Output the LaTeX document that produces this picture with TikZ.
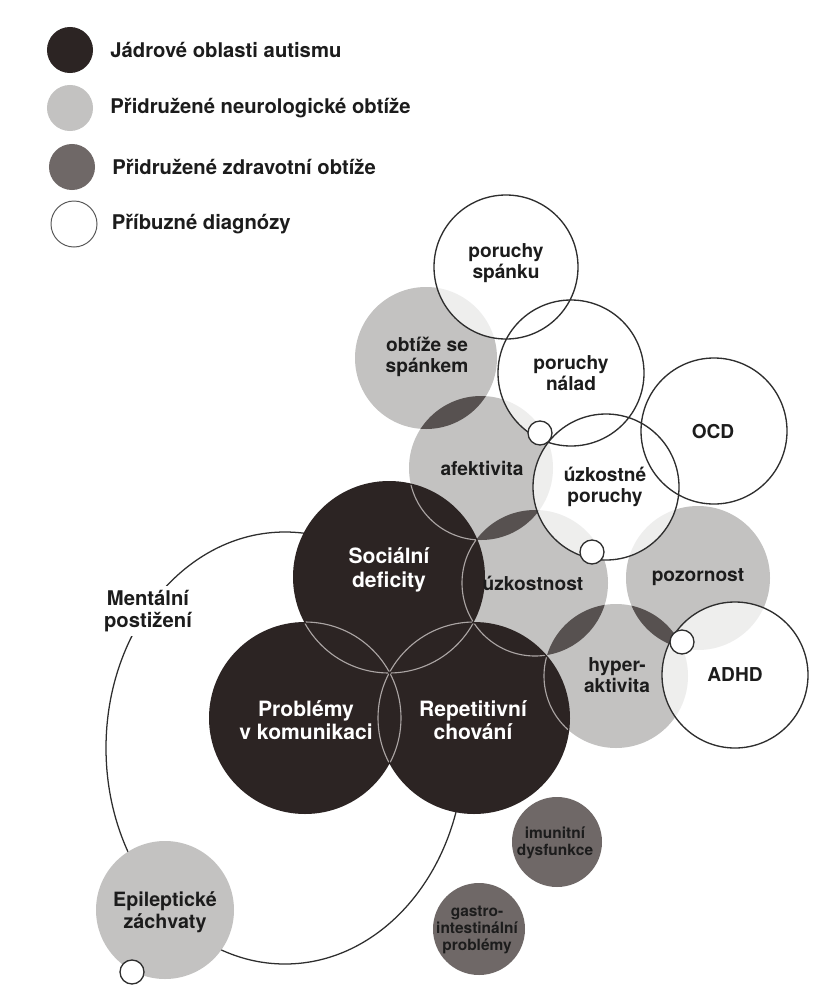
\documentclass[tikz,border=0pt]{standalone}
\usepackage{fontspec}
\setmainfont{TeX Gyre Heros}
\usepackage{xcolor}
\usepackage{tikz}
\usetikzlibrary{positioning}
\definecolor{core}{HTML}{2C2423}
\definecolor{neuro}{HTML}{C3C2C1}
\definecolor{lensfill}{HTML}{575150}
\definecolor{health}{HTML}{6F6867}
\definecolor{ring}{HTML}{2E2E2E}
\definecolor{rim}{HTML}{ABA5A4}
\definecolor{ink}{HTML}{1C1C1C}

\begin{document}
\begin{tikzpicture}[x=0.025cm, y=-0.025cm,
  related/.style={fill=white, fill opacity=0.72},
  ringline/.style={draw=ring, line width=0.95pt},
  rimline/.style={draw=rim, line width=0.8pt},
  lbl/.style={align=center, text=ink, inner sep=1pt, font=\bfseries\fontsize{13.6}{15}\selectfont},
  corelbl/.style={lbl, text=white, font=\bfseries\fontsize{15}{16.8}\selectfont},
  smalllbl/.style={lbl, font=\bfseries\fontsize{11}{12.2}\selectfont},
  legdot/.style={circle, minimum size=1.15cm, inner sep=0pt},
  legtext/.style={anchor=west, inner sep=0pt, text=ink, font=\bfseries\fontsize{14.4}{16}\selectfont}]
\fill[white] (0,0) rectangle (835,987);
\useasboundingbox (0,0) rectangle (835,987);

% legend
\node[legdot, fill=core] (leg1) at (70,50) {};
\node[legdot, fill=neuro] (leg2) at (70,108) {};
\node[legdot, fill=health] (leg3) at (72,167) {};
\node[legdot, draw=ring!80, line width=0.7pt] (leg4) at (74,224) {};
\node[legtext, right=0.42cm of leg1] (leg1t) {Jádrové oblasti autismu};
\node[legtext, right=0.42cm of leg2] (leg2t) {Přidružené neurologické obtíže};
\node[legtext, right=0.42cm of leg3] (leg3t) {Přidružené zdravotní obtíže};
\node[legtext, right=0.35cm of leg4] (leg4t) {Příbuzné diagnózy};

% centres
\coordinate (soc) at (389,577);
\coordinate (kom) at (305,718);
\coordinate (rep) at (474,718);
\coordinate (obt) at (426,358);
\coordinate (afe) at (481,468);
\coordinate (uzn) at (535,583);
\coordinate (poz) at (698,578);
\coordinate (hyp) at (616,676);
\coordinate (epi) at (165,910);
\coordinate (imu) at (557,842);
\coordinate (gas) at (479,929);
\coordinate (spa) at (506,267);
\coordinate (nal) at (571,373);
\coordinate (ocd) at (714,431);
\coordinate (uzp) at (606,487);
\coordinate (adh) at (735,675);
\coordinate (men) at (285,748);

% mental ring
\draw[ringline, line width=0.9pt] (men) ellipse (179 and 216);

% neurological
\fill[neuro] (obt) circle (71) (afe) circle (72) (uzn) circle (73)
  (poz) circle (72) (hyp) circle (72) (epi) circle (69);
\begin{scope}
  \clip (obt) circle (71);
  \fill[lensfill] (afe) circle (72);
\end{scope}
\begin{scope}
  \clip (afe) circle (72);
  \fill[lensfill] (uzn) circle (73);
\end{scope}
\begin{scope}
  \clip (uzn) circle (73);
  \fill[lensfill] (hyp) circle (72);
\end{scope}
\begin{scope}
  \clip (poz) circle (72);
  \fill[lensfill] (hyp) circle (72);
\end{scope}

% health
\fill[health] (imu) circle (45) (gas) circle (46);

% core
\fill[core] (soc) circle (96) (kom) circle (96) (rep) circle (96);
\foreach \c in {soc,kom,rep}{
  \begin{scope}
    \clip (\c) circle (94.5);
    \draw[rimline] (soc) circle (96) (kom) circle (96) (rep) circle (96)
      (afe) circle (72) (uzn) circle (73) (hyp) circle (72);
  \end{scope}
}

% related diagnoses
\fill[related] (spa) circle (72) (nal) circle (73) (ocd) circle (73)
  (uzp) circle (73) (adh) circle (73);
\draw[ringline] (spa) circle (72) (nal) circle (73) (ocd) circle (73)
  (uzp) circle (73) (adh) circle (73);
\foreach \p in {(540,433),(592,552),(682,642),(132,972)}
  \draw[ringline, fill=white] \p circle (12);

% labels
\node[corelbl] (soc-l) at (389,570) {Sociální\\deficity};
\node[corelbl] (kom-l) at (306,720) {Problémy\\v komunikaci};
\node[corelbl] (rep-l) at (473,720) {Repetitivní\\chování};
\node[lbl] (obt-l) at (427,357) {obtíže se\\spánkem};
\node[lbl] (afe-l) at (482,468) {afektivita};
\node[lbl] (uzn-l) at (533,583) {úzkostnost};
\node[lbl] (poz-l) at (698,577) {pozornost};
\node[lbl] (hyp-l) at (617,675) {hyper-\\aktivita};
\node[lbl, font=\bfseries\fontsize{14}{16}\selectfont] (epi-l) at (165,912) {Epileptické\\záchvaty};
\node[lbl] (spa-l) at (506,263) {poruchy\\spánku};
\node[lbl] (nal-l) at (571,373) {poruchy\\nálad};
\node[lbl] (ocd-l) at (713,432) {OCD};
\node[lbl] (uzp-l) at (605,487) {úzkostné\\poruchy};
\node[lbl] (adh-l) at (735,675) {ADHD};
\node[smalllbl] (imu-l) at (555,843) {imunitní\\dysfunkce};
\node[smalllbl] (gas-l) at (477,930) {gastro-\\intestinální\\problémy};
\node[lbl, fill=white, inner sep=3pt, font=\bfseries\fontsize{14.4}{16.2}\selectfont] (men-l) at (148,611) {Mentální\\postižení};
\end{tikzpicture}
\end{document}
